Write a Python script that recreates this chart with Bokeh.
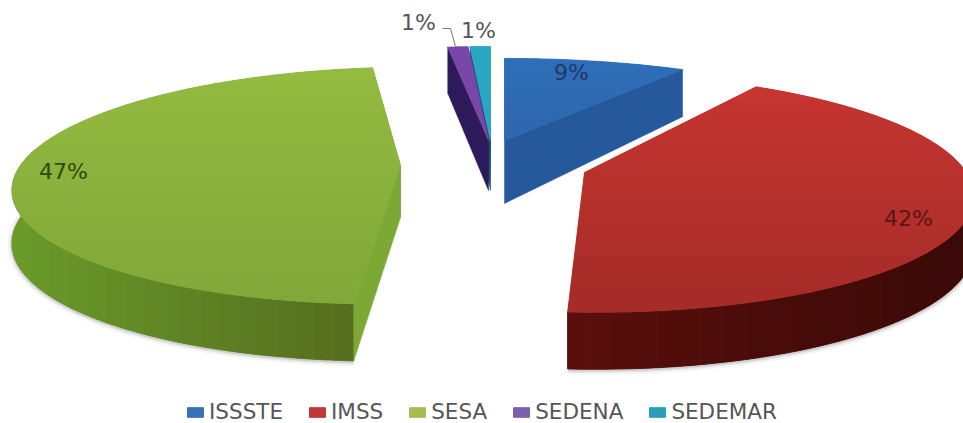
import math
from bokeh.plotting import figure
from bokeh.models import Range1d, Legend, LegendItem
from bokeh.core.properties import value
from bokeh.embed import file_html
from bokeh.resources import INLINE

names = ["ISSSTE", "IMSS", "SESA", "SEDENA", "SEDEMAR"]
shares = [9, 42, 47, 1, 1]
labels = ["9%", "42%", "47%", "1%", "1%"]
top_back = ["#2f6fb9", "#c63531", "#93bb3f", "#7a46a8", "#2aa5c4"]
top_front = ["#2e68ae", "#a52c28", "#82a83a", "#7a46a8", "#2aa5c4"]
wall_left = ["#26599b", "#5a0f0c", "#6a9a2a", "#2d1a5a", "#1a4f7a"]
wall_right = ["#26599b", "#3a0a08", "#566f1f", "#2d1a5a", "#1a4f7a"]
cut_colors = ["#26599b", "#a92e2a", "#7ca835", "#2d1a5a", "#1a4f7a"]
legend_colors = ["#3a70b8", "#c0393a", "#a5bd55", "#7a62ab", "#2aa0b8"]
label_colors = ["#1f3864", "#5a1515", "#2f4a10", "#555555", "#555555"]

# projected-pie layout per slice: apex x, apex y, radius x, radius y, skew, depth, depth falloff
layout = [
    (504, 140, 380, 96, 0, 63, 0.30),
    (584, 172, 382, 116, -10, 50, 0.14),
    (400, 165, 380, 115, 15, 52, 0.10),
    (488, 140, 380, 110, 0, 50, 0.08),
    (490, 140, 380, 110, 0, 50, 0.08),
]
label_pos = [(571, 72), (908, 218), (63, 171), (418, 22), (478, 30)]
K = 0.17
W, H = 963, 423


def pt(th, g):
    ax, ay, rx, ry, s, d, q = g
    u, v = math.sin(math.radians(th)), math.cos(math.radians(th))
    w = 1 + K * v
    return ax + (rx * u + s * v) / w, ay - ry * v / w


def dep(th, g):
    return g[5] * (1 - g[6] * math.cos(math.radians(th)))


def lerp_color(c0, c1, f):
    a = [int(c0[i:i + 2], 16) for i in (1, 3, 5)]
    b = [int(c1[i:i + 2], 16) for i in (1, 3, 5)]
    return "#%02x%02x%02x" % tuple(int(x + (y - x) * f) for x, y in zip(a, b))


def arc(a, b, g, n=60):
    return [pt(a + (b - a) * i / n, g) for i in range(n + 1)]


def clip(poly, axis, lo, hi):
    """Part of a polygon between lo and hi along one axis."""
    def half(pts, keep, bound):
        out = []
        for j, c in enumerate(pts):
            d = pts[j - 1]
            ci, di = keep(c[axis]), keep(d[axis])
            if ci != di:
                f = (bound - d[axis]) / (c[axis] - d[axis])
                out.append((d[0] + (c[0] - d[0]) * f, d[1] + (c[1] - d[1]) * f))
            if ci:
                out.append(c)
        return out
    r = half(poly, lambda z: z >= lo, lo)
    return half(r, lambda z: z <= hi, hi) if r else r


def banded(poly, axis, c0, c1, n):
    base = lerp_color(c0, c1, 0.5)
    p.patch([q[0] for q in poly], [q[1] for q in poly],
            fill_color=base, line_color=base, line_width=0.8)
    vals = [q[axis] for q in poly]
    lo, hi = min(vals), max(vals)
    for j in range(n):
        # each band reaches a little under the next one so no seam shows
        part = clip(poly, axis, lo + (hi - lo) * j / n, lo + (hi - lo) * (j + 1) / n + 1.5)
        if len(part) >= 3:
            col = lerp_color(c0, c1, j / max(n - 1, 1))
            p.patch([q[0] for q in part], [q[1] for q in part],
                    fill_color=col, line_color=None)


def cut(th, g, color):
    x0, y0 = pt(th, g)
    d = dep(th, g)
    p.patch([x0, g[0], g[0], x0], [y0, g[1], g[1] + g[5], y0 + d],
            fill_color=color, line_color=color, line_width=0.5)


p = figure(width=W, height=H, output_backend="svg", toolbar_location=None,
           x_range=Range1d(0, W), y_range=Range1d(H, 0),
           min_border=0, outline_line_color=None, background_fill_color="white")
p.axis.visible = False
p.grid.visible = False

angles = []
t = 0.0
total = sum(shares)
for sh in shares:
    angles.append((t, t + 360.0 * sh / total))
    t += 360.0 * sh / total

for i in [4, 3, 0, 1, 2]:
    a, b = angles[i]
    g = layout[i]
    if i in (1, 2):
        wa, wb = (max(a, 92), b) if i == 1 else (a, min(b, 278))
        rim = arc(wa, wb, g)
        ths = [wa + (wb - wa) * j / 60 for j in range(61)]
        # soft shadow under the outer rim
        for lw, al in ((9, 0.05), (5, 0.08), (2.5, 0.12)):
            p.line([q[0] for q in rim], [q[1] + dep(th, g) + 1 for q, th in zip(rim, ths)],
                   line_color="#333333", line_alpha=al, line_width=lw)
        poly = rim + [(q[0], q[1] + dep(th, g)) for q, th in zip(reversed(rim), reversed(ths))]
        banded(poly, 0, wall_left[i], wall_right[i], 18)
    # cut faces
    if i == 0:
        cut(b, g, cut_colors[i])
    elif i == 2:
        cut(a, g, cut_colors[i])
        cut(b, g, cut_colors[i])
    elif i in (3, 4):
        cut(a, g, cut_colors[i])
    if i == 4:
        # thin visible dark edge on the right side
        x0, y0 = pt(b, g)
        p.patch([g[0] - 1.5, g[0] + 0.5, g[0] + 0.5], [y0 + 55, y0 + 55, g[1] + g[5]],
                fill_color=wall_left[i], line_color=None)
    # top face
    top = [(g[0], g[1])] + arc(a, b, g)
    banded(top, 1, top_back[i], top_front[i], 16 if i < 3 else 1)

proxy = []
for i, n in enumerate(names):
    proxy.append(p.patch([0, 0], [0, 0], fill_color=legend_colors[i], line_color=legend_colors[i]))
legend = Legend(items=[LegendItem(label=value(n), renderers=[proxy[i]]) for i, n in enumerate(names)],
                orientation="horizontal", location=(185, -1), margin=0, padding=0,
                spacing=24, glyph_width=20, glyph_height=12, label_standoff=4,
                label_text_font="DejaVu Sans", label_text_font_size="21.5px",
                label_text_color="#565656", background_fill_alpha=0, border_line_alpha=0,
                label_height=13)
p.add_layout(legend)

for i, lab in enumerate(labels):
    lx, ly = label_pos[i]
    p.text([lx], [ly], text=[lab], text_font=value("DejaVu Sans"), text_font_size="22px",
           text_color=label_colors[i], text_align="center", text_baseline="middle")

# leader line from the first 1% label
lead_x = [label_pos[3][0] + 24, label_pos[3][0] + 32, label_pos[3][0] + 37]
lead_y = [label_pos[3][1] + 6, label_pos[3][1] + 6, label_pos[3][1] + 24]
p.line(lead_x, lead_y, line_color="#777777", line_width=1)

open("out.html", "w").write(file_html(p, INLINE))
